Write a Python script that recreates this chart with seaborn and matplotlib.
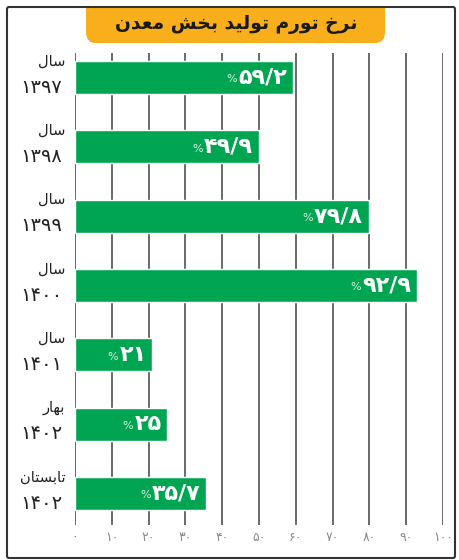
import numpy as np
import pandas as pd
import seaborn as sns
import matplotlib.pyplot as plt
from matplotlib.patches import FancyBboxPatch


# data
periods = ['سال', 'سال', 'سال', 'سال', 'سال', 'بهار', 'تابستان']
years = ['1397', '1398', '1399', '1400', '1401', '1402', '1402']
rates = [59.2, 49.9, 79.8, 92.9, 21, 25, 35.7]
xticks = [0, 10, 20, 30, 40, 50, 60, 70, 80, 90, 100]
title = 'نرخ تورم تولید بخش معدن'

GREEN = '#00A551'
ORANGE = '#F9AE1B'

# minimal arabic shaping (matplotlib has no complex text layout)
FORMS = {
  'ا': ('\uFE8D', '\uFE8E', None, None),
  'ب': ('\uFE8F', '\uFE90', '\uFE91', '\uFE92'),
  'ت': ('\uFE95', '\uFE96', '\uFE97', '\uFE98'),
  'خ': ('\uFEA5', '\uFEA6', '\uFEA7', '\uFEA8'),
  'د': ('\uFEA9', '\uFEAA', None, None),
  'ر': ('\uFEAD', '\uFEAE', None, None),
  'س': ('\uFEB1', '\uFEB2', '\uFEB3', '\uFEB4'),
  'ش': ('\uFEB5', '\uFEB6', '\uFEB7', '\uFEB8'),
  'ع': ('\uFEC9', '\uFECA', '\uFECB', '\uFECC'),
  'ل': ('\uFEDD', '\uFEDE', '\uFEDF', '\uFEE0'),
  'م': ('\uFEE1', '\uFEE2', '\uFEE3', '\uFEE4'),
  'ن': ('\uFEE5', '\uFEE6', '\uFEE7', '\uFEE8'),
  'ه': ('\uFEE9', '\uFEEA', '\uFEEB', '\uFEEC'),
  'و': ('\uFEED', '\uFEEE', None, None),
  'ی': ('\uFBFC', '\uFBFD', '\uFBFE', '\uFBFF'),
}


def shape(text):
  out = []
  for i, c in enumerate(text):
    if c not in FORMS:
      out.append(c)
      continue
    iso, fin, ini, med = FORMS[c]
    prev = text[i - 1] if i > 0 else None
    nxt = text[i + 1] if i + 1 < len(text) else None
    join_prev = prev in FORMS and FORMS[prev][2] is not None
    join_next = nxt in FORMS and ini is not None
    if join_prev and join_next:
      out.append(med)
    elif join_prev:
      out.append(fin)
    elif join_next:
      out.append(ini)
    else:
      out.append(iso)
  return ''.join(reversed(out))


def fa(s):
  # persian digits; the decimal mark is drawn as a slash like in the source
  return str(s).translate(str.maketrans('0123456789.', '۰۱۲۳۴۵۶۷۸۹/'))


def fmt(v):
  return fa(('%.1f' % v).rstrip('0').rstrip('.'))


sns.set_style('white')
plt.rcParams['font.family'] = ['DejaVu Sans']

df = pd.DataFrame({'label': [str(i) for i in range(len(rates))], 'rate': rates})

fig = plt.figure(figsize=(4.59, 5.6), dpi=100)
ax = fig.add_axes([75 / 459, 1 - 525 / 560, 368 / 459, 472 / 560])

sns.barplot(data=df, x='rate', y='label', color=GREEN, saturation=1, width=0.476, ax=ax, zorder=3)

ax.set_xlim(0, 100)
ax.set_ylim(6.455, -0.353)
ax.set_xticks(xticks)
ax.set_xticklabels([fa(t) for t in xticks], color='#8a8a8a', fontsize=9)
ax.tick_params(axis='x', length=0, pad=4)
ax.set_yticks([])
ax.set_xlabel('')
ax.set_ylabel('')
for s in ax.spines.values():
  s.set_visible(False)
for t in xticks:
  ax.axvline(t, color='#5e5e5e', lw=1.3, zorder=1)

# value labels inside bars
for i, v in enumerate(rates):
  num = ax.annotate(fmt(v), xy=(v, i), xytext=(-4, 0), textcoords='offset points',
                    ha='right', va='center', color='white', fontsize=16, fontweight='bold')
  ax.annotate('%', xy=(0, 0.15), xycoords=num, xytext=(-1, 0), textcoords='offset points',
              ha='right', va='bottom', color='#d8f0df', fontsize=8)

# category labels on the left
for i, (p, y) in enumerate(zip(periods, years)):
  ax.annotate(shape(p), xy=(0, i), xytext=(-7, 12), textcoords='offset points',
              ha='right', va='center', fontsize=10.5, color='#222222')
  ax.annotate(fa(y), xy=(0, i), xytext=(-9, -7), textcoords='offset points',
              ha='right', va='center', fontsize=14, color='#222222')

# title box: square top, rounded bottom
fig.patches.append(FancyBboxPatch((86 / 459, 517 / 560), 299 / 459, 36 / 560,
                                  boxstyle='round,pad=0,rounding_size=0.02',
                                  transform=fig.transFigure, facecolor=ORANGE,
                                  edgecolor='none', zorder=0))
fig.patches.append(plt.Rectangle((86 / 459, 535 / 560), 299 / 459, 18 / 560,
                                 transform=fig.transFigure, facecolor=ORANGE,
                                 edgecolor='none', zorder=0))
# outer frame
fig.patches.append(FancyBboxPatch((7 / 459, 2 / 560), 448 / 459, 551 / 560,
                                  boxstyle='round,pad=0,rounding_size=0.004',
                                  transform=fig.transFigure, fill=False,
                                  edgecolor='#333333', lw=1.5, zorder=2))
fig.text(236 / 459, 1 - 25 / 560, shape(title), ha='center', va='center',
         fontsize=13.5, fontweight='bold', color='#1a1a1a')

fig.savefig('out.png', dpi=100)
